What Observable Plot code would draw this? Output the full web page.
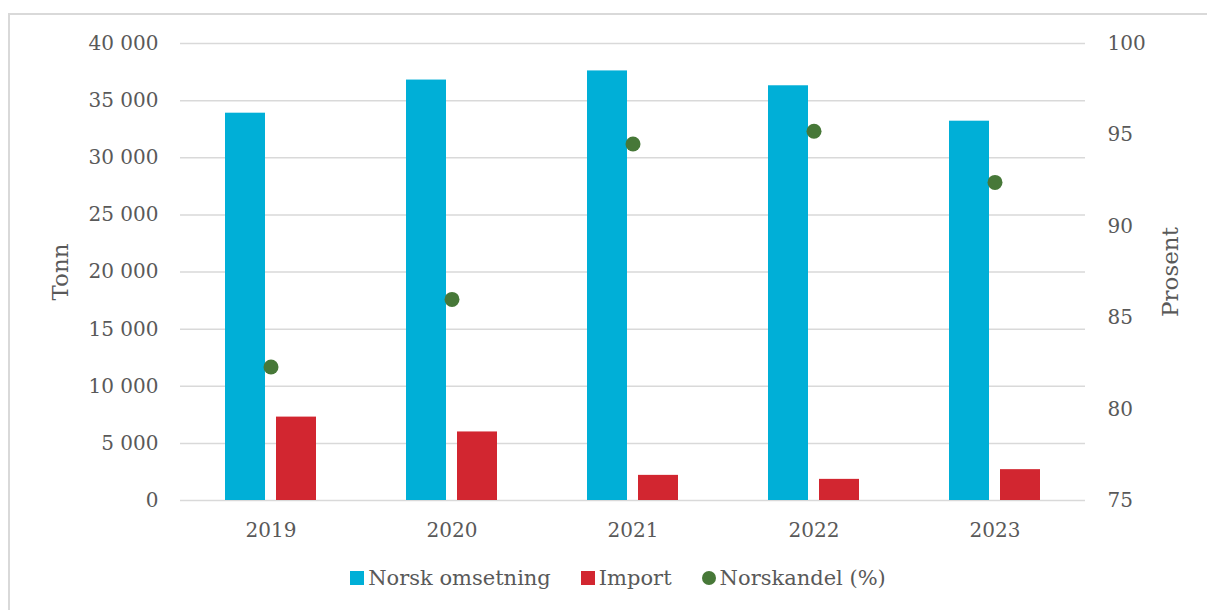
<!DOCTYPE html>
<html>
<head>
<meta charset="utf-8">
<script src="https://cdn.jsdelivr.net/npm/d3@7"></script>
<script src="https://cdn.jsdelivr.net/npm/@observablehq/plot@0.6"></script>
<style>
  html, body { margin: 0; padding: 0; background: #fff; overflow: hidden; }
  body { width: 1207px; height: 610px; position: relative; font-family: "DejaVu Serif", serif; color: #595959; }
  #frame { position: absolute; left: 8px; top: 13px; width: 1260px; height: 660px; border: 2px solid #d9d9d9; box-sizing: border-box; }
  #chart { position: absolute; left: 10px; top: 15px; }
  .ytitle { position: absolute; font-size: 23px; transform: translate(-50%, -50%) rotate(-90deg); white-space: nowrap; }
  #legend { position: absolute; top: 566px; left: 0; width: 1236px; display: flex; justify-content: center; gap: 30px; font-size: 21px; }
  #legend .item { display: flex; align-items: center; gap: 4px; }
  #legend .sw { width: 14px; height: 14px; display: inline-block; }
  #legend .sw.dot { border-radius: 50%; }
</style>
</head>
<body>
<div id="frame"></div>
<div id="chart"></div>
<div class="ytitle" style="left:60px; top:272px;">Tonn</div>
<div class="ytitle" style="left:1170px; top:272px;">Prosent</div>
<div id="legend"></div>
<script>
const years = ["2019", "2020", "2021", "2022", "2023"];
const norskOmsetning = [33900, 36800, 37600, 36300, 33200];
const importTonn = [7300, 6000, 2200, 1850, 2700];
const norskandel = [82.3, 86.0, 94.5, 95.2, 92.4];
const tonnTicks = [0, 5000, 10000, 15000, 20000, 25000, 30000, 35000, 40000];
const prosentTicks = [75, 80, 85, 90, 95, 100];
const seriesNames = ["Norsk omsetning", "Import", "Norskandel (%)"];
const seriesColors = ["#00afd7", "#d22630", "#477838"];

const pMin = 75, pMax = 100, tMax = 40000;
const pToT = p => (p - pMin) / (pMax - pMin) * tMax;
const tToP = t => pMin + t / tMax * (pMax - pMin);

const bars = years.flatMap((y, i) => [
  {year: y, serie: seriesNames[0], value: norskOmsetning[i]},
  {year: y, serie: seriesNames[1], value: importTonn[i]}
]);
const dots = years.map((y, i) => ({year: y, pct: norskandel[i]}));

const fmt = d => d3.format(",")(d).replace(/,/g, " ");

const chart = Plot.plot({
  width: 1197,
  height: 535,
  marginLeft: 170,
  marginRight: 122,
  marginTop: 28,
  marginBottom: 50,
  style: {fontFamily: "DejaVu Serif, serif", fontSize: "20px", color: "#595959", background: "transparent"},
  fx: {domain: years, padding: 0, axis: null, label: null},
  x: {domain: seriesNames.slice(0, 2), paddingInner: 0.214, paddingOuter: 0.864, axis: null},
  y: {domain: [0, tMax], axis: null},
  color: {domain: seriesNames, range: seriesColors},
  marks: [
    Plot.gridY(tonnTicks, {stroke: "#d9d9d9", strokeOpacity: 1, strokeWidth: 1.5}),
    Plot.barY(bars, {fx: "year", x: "serie", y: "value", fill: "serie"}),
    Plot.dot(dots, {fx: "year", y: d => pToT(d.pct), r: 7.5, fill: seriesColors[2], stroke: "none"}),
    Plot.axisY(tonnTicks, {anchor: "left", tickSize: 0, tickPadding: 22, tickFormat: fmt, label: null, fill: "#595959"}),
    Plot.axisY(prosentTicks.map(pToT), {anchor: "right", tickSize: 0, tickPadding: 22, tickFormat: t => String(Math.round(tToP(t))), label: null, fill: "#595959"}),
    Plot.axisFx({anchor: "bottom", tickSize: 0, tickPadding: 22, label: null, fill: "#595959"})
  ]
});
document.getElementById("chart").appendChild(chart);

const legend = document.getElementById("legend");
seriesNames.forEach((name, i) => {
  const item = document.createElement("div");
  item.className = "item";
  const sw = document.createElement("span");
  sw.className = "sw" + (i === 2 ? " dot" : "");
  sw.style.background = seriesColors[i];
  const label = document.createElement("span");
  label.textContent = name;
  item.appendChild(sw);
  item.appendChild(label);
  legend.appendChild(item);
});
</script>
</body>
</html>
